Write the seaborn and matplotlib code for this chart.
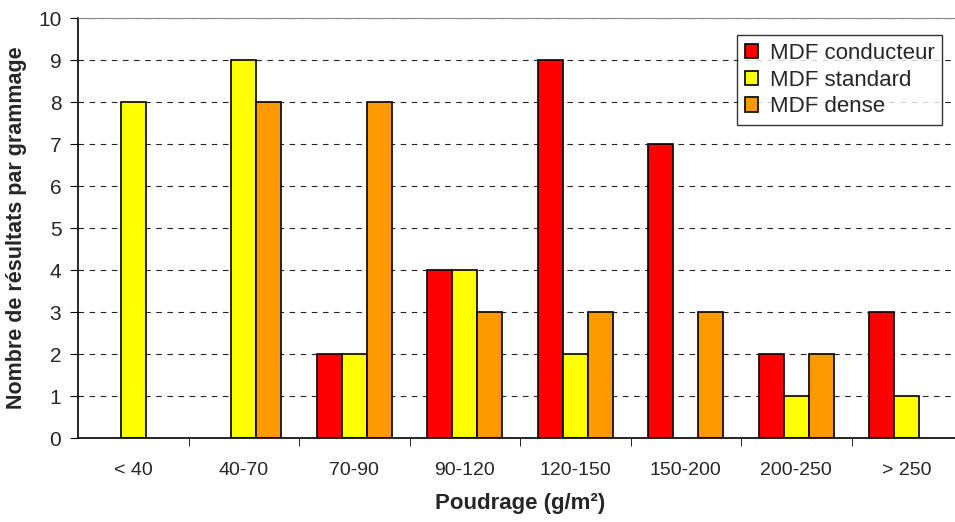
import matplotlib
matplotlib.use("Agg")
import matplotlib.pyplot as plt
import seaborn as sns
import pandas as pd

# ----------------------------------------------------------------------
# Data
# ----------------------------------------------------------------------
categories = ["< 40", "40-70", "70-90", "90-120", "120-150", "150-200", "200-250", "> 250"]
series = ["MDF conducteur", "MDF standard", "MDF dense"]
conducteur = [0, 0, 2, 4, 9, 7, 2, 3]
standard = [8, 9, 2, 4, 2, 0, 1, 1]
dense = [0, 8, 8, 3, 3, 3, 2, 0]
colors = ["#FF0000", "#FFFF00", "#FF9900"]

df = pd.DataFrame({
    "cat": categories * 3,
    "serie": [series[0]] * 8 + [series[1]] * 8 + [series[2]] * 8,
    "val": conducteur + standard + dense,
})
# empty bars are not drawn in the original (no flat outline at 0)
df.loc[df["val"] == 0, "val"] = float("nan")

# ----------------------------------------------------------------------
# Plot
# ----------------------------------------------------------------------
sns.set_style("white")
plt.rcParams["font.family"] = ["Liberation Sans", "DejaVu Sans"]

fig = plt.figure(figsize=(9.55, 5.22), dpi=100)
ax = fig.add_axes([78 / 955, 84 / 522, 884 / 955, 420 / 522])

sns.barplot(data=df, x="cat", y="val", hue="serie", hue_order=series,
            order=categories, palette=colors, width=0.68, edgecolor="black",
            linewidth=1.2, saturation=1, ax=ax)

ax.set_ylim(0, 10)
ax.set_xlim(-0.5, 7.5)
ax.set_yticks(range(0, 11))
ax.yaxis.grid(True, linestyle=(0, (5, 5)), color="#222222", linewidth=0.8)
ax.set_axisbelow(True)

# ticks between groups
ax.set_xticks([i + 0.5 for i in range(7)], minor=True)
ax.tick_params(axis="x", which="major", length=0, pad=17, labelsize=14)
ax.tick_params(axis="x", which="minor", length=6, color="black", direction="out")
ax.tick_params(axis="y", length=6, color="black", direction="out", labelsize=15, pad=6)
ax.tick_params(axis="both", which="both", bottom=True, left=True)

for s in ["left", "bottom"]:
    ax.spines[s].set_color("black")
    ax.spines[s].set_linewidth(1.2)
ax.spines["top"].set_color("#888888")
ax.spines["right"].set_visible(False)

ax.set_xlabel("Poudrage (g/m²)", fontsize=16, fontweight="bold", labelpad=10)
ax.set_ylabel("Nombre de résultats par grammage", fontsize=15.5, fontweight="bold", labelpad=8)

leg = ax.legend(loc="upper right", bbox_to_anchor=(0.99, 0.985), fontsize=16,
                frameon=True, fancybox=False, edgecolor="black",
                handlelength=0.6, handleheight=0.6, handletextpad=0.5,
                borderpad=0.35, labelspacing=0.25)
leg.get_frame().set_linewidth(1.0)

fig.savefig("out.png", dpi=100)
